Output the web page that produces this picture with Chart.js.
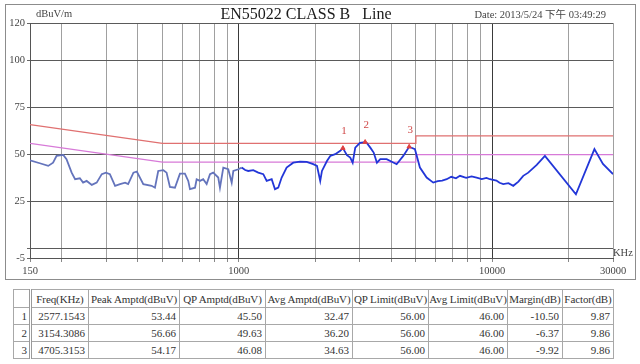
<!DOCTYPE html>
<html>
<head>
<meta charset="utf-8">
<script src="https://cdn.jsdelivr.net/npm/chart.js@4.4.1/dist/chart.umd.min.js"></script>
<style>
  html, body { margin: 0; padding: 0; background: #fff; }
  body { width: 640px; height: 364px; position: relative; overflow: hidden; font-family: 'Liberation Serif', serif; }
  #box { position: absolute; left: 5px; top: 4px; width: 629px; height: 274px; border: 1px solid #8c8c8c; }
  #box canvas { display: block; }
  #peaks { position: absolute; left: 13px; top: 289px; width: 600px; border-collapse: collapse; table-layout: fixed; font-size: 11px; color: #333; }
  #peaks th, #peaks td { border: 1px solid #a8a8a8; padding: 0 3px; white-space: nowrap; overflow: hidden; font-weight: normal; }
  #peaks th { height: 17px; text-align: center; padding: 0; letter-spacing: -0.1px; }
  #peaks td { height: 16px; text-align: right; }
  #peaks .idx { border-right: 3px double #9a9a9a; padding: 0 2px; }
</style>
</head>
<body>
<div id="box"><canvas id="myChart" width="629" height="274"></canvas></div>
<table id="peaks">
  <colgroup>
    <col style="width:17px"><col style="width:58px"><col style="width:91px"><col style="width:86px">
    <col style="width:87px"><col style="width:76px"><col style="width:79px"><col style="width:55px"><col style="width:51px">
  </colgroup>
  <thead><tr id="headRow"></tr></thead>
  <tbody id="bodyRows"></tbody>
</table>
<script>
'use strict';

// Chart texts
let titleText = 'EN55022 CLASS B   Line';
let dateText = 'Date: 2013/5/24 下午 03:49:29';
let unitText = 'dBuV/m';
let freqUnitText = 'KHz';

// Axis ticks
let xGridTicks = [150, 200, 300, 400, 500, 600, 700, 800, 900, 1000, 2000, 3000, 4000, 5000, 6000, 7000, 8000, 9000, 10000, 20000, 30000];
let xLabelTicks = [150, 1000, 10000, 30000];
let yTicks = [-5, 0, 25, 50, 75, 100, 120];
let yLabelTicks = [-5, 25, 50, 75, 100, 120];

// Limit lines (KHz / dBuV)
let qpLimitFreq = [150, 500, 5000, 5000, 30000];
let qpLimitLevel = [66, 56, 56, 60, 60];
let avgLimitFreq = [150, 500, 5000, 5000, 30000];
let avgLimitLevel = [56, 46, 46, 50, 50];

let traceFreq = [150, 164, 177, 185, 191, 203, 209, 219, 226, 236, 243, 251, 263, 275, 288, 299, 310, 325, 340, 356,
  366, 384, 396, 420, 453, 467, 481, 504, 519, 535, 560, 586, 613, 632, 642, 672, 682, 703, 724, 747,
  770, 793, 830, 843, 869, 909, 938, 952, 996, 1027, 1060, 1090, 1141, 1194, 1250, 1289, 1349, 1390, 1432, 1477,
  1545, 1641, 1745, 1854, 1968, 2036, 2097, 2130, 2229, 2297, 2403, 2516, 2577, 2673, 2755, 2816, 2883, 3009, 3154, 3207,
  3305, 3408, 3511, 3619, 3834, 4200, 4460, 4705, 4959, 5189, 5516, 5856, 6100, 6350, 6617, 6900, 7200, 7466, 7900, 8300,
  8685, 9100, 9500, 9806, 10400, 10700, 11066, 11600, 12121, 12700, 13268, 13886, 15000, 16160, 21420, 25340, 27380, 30000];
let traceLevel = [47.0, 45.4, 44.0, 45.7, 49.3, 49.8, 47.5, 40.4, 36.9, 37.4, 35.1, 36.0, 33.9, 35.1, 39.6, 40.4, 39.6, 33.4, 34.3, 35.1,
  34.3, 40.4, 41.0, 34.3, 33.4, 32.4, 41.3, 41.7, 40.4, 32.8, 32.4, 39.9, 39.9, 36.0, 31.6, 32.4, 36.9, 36.0, 36.9, 34.3,
  39.6, 40.4, 37.8, 32.4, 43.1, 42.2, 35.1, 41.3, 42.2, 43.1, 41.8, 41.3, 41.7, 40.4, 39.6, 36.0, 36.9, 31.6, 32.4, 37.8,
  43.1, 45.7, 46.3, 46.1, 44.9, 44.0, 36.0, 41.3, 46.6, 49.3, 50.2, 52.0, 53.44, 49.7, 48.4, 45.7, 53.7, 56.2, 56.66, 56.1,
  53.7, 51.1, 45.7, 47.6, 47.6, 44.9, 49.3, 54.17, 52.9, 43.1, 37.8, 35.1, 35.9, 36.2, 36.9, 38.2, 37.4, 38.7, 37.6, 38.4,
  37.8, 37.0, 37.6, 36.9, 36.2, 35.0, 34.3, 34.8, 33.4, 35.6, 38.7, 40.4, 44.5, 49.3, 28.9, 52.9, 45.0, 39.6];

// Peak table
let tableHeaders = ['', 'Freq(KHz)', 'Peak Amptd(dBuV)', 'QP Amptd(dBuV)', 'Avg Amptd(dBuV)', 'QP Limit(dBuV)', 'Avg Limit(dBuV)', 'Margin(dB)', 'Factor(dB)'];
let peakNo = ['1', '2', '3'];
let peakFreq = [2577.1543, 3154.3086, 4705.3153];
let peakAmptd = [53.44, 56.66, 54.17];
let qpAmptd = [45.50, 49.63, 46.08];
let avgAmptd = [32.47, 36.20, 34.63];
let qpLimit = [56.00, 56.00, 56.00];
let avgLimit = [46.00, 46.00, 46.00];
let margin = [-10.50, -6.37, -9.92];
let factor = [9.87, 9.86, 9.86];

function toPoints(xs, ys) {
  return xs.map((x, i) => ({ x: x, y: ys[i] }));
}

// Table render
let headRow = document.getElementById('headRow');
tableHeaders.forEach((h, i) => {
  let th = document.createElement('th');
  th.textContent = h;
  if (i === 0) th.className = 'idx';
  headRow.appendChild(th);
});
let bodyRows = document.getElementById('bodyRows');
for (let i = 0; i < peakNo.length; i++) {
  let tr = document.createElement('tr');
  let cells = [peakNo[i], peakFreq[i].toFixed(4), peakAmptd[i].toFixed(2), qpAmptd[i].toFixed(2), avgAmptd[i].toFixed(2),
    qpLimit[i].toFixed(2), avgLimit[i].toFixed(2), margin[i].toFixed(2), factor[i].toFixed(2)];
  cells.forEach((c, j) => {
    let td = document.createElement('td');
    td.textContent = c;
    if (j === 0) td.className = 'idx';
    tr.appendChild(td);
  });
  bodyRows.appendChild(tr);
}

// Texts drawn on the canvas
const annotate = {
  id: 'annotate',
  afterDraw(chart) {
    let ctx = chart.ctx;
    ctx.save();
    ctx.textBaseline = 'middle';
    ctx.fillStyle = '#1a1a1a';
    ctx.font = '16px "Liberation Serif"';
    ctx.textAlign = 'center';
    ctx.fillText(titleText, 300, 10);
    ctx.fillStyle = '#444';
    ctx.font = '10.5px "Liberation Serif", "Noto Sans CJK SC"';
    ctx.textAlign = 'right';
    ctx.fillText(dateText, 600, 10);
    ctx.textAlign = 'left';
    ctx.fillText(unitText, 30, 9);
    ctx.fillText(freqUnitText, 607, 248);

    let meta = chart.getDatasetMeta(0);
    ctx.fillStyle = '#d04848';
    ctx.font = '11px "Liberation Serif"';
    ctx.textAlign = 'center';
    meta.data.forEach((pt, i) => {
      ctx.fillText(peakNo[i], pt.x + 1, pt.y - 17);
    });
    ctx.restore();
  }
};

let ctx = document.getElementById('myChart').getContext('2d');
let myChart = new Chart(ctx, {
  type: 'line',
  data: {
    datasets: [{
      label: 'Peaks',
      data: toPoints(peakFreq, peakAmptd),
      showLine: false,
      pointStyle: 'triangle',
      pointRadius: 2.5,
      backgroundColor: '#e04040',
      borderColor: '#e04040',
      order: 0
    },
    {
      label: 'Trace',
      data: toPoints(traceFreq, traceLevel),
      borderColor: '#2b3fd0',
      borderWidth: 1.8,
      pointRadius: 0,
      tension: 0,
      segment: {
        borderColor: c => c.p0.parsed.x < 1000 ? '#6474bc' : '#2236d8'
      },
      order: 1
    },
    {
      label: 'QP Limit',
      data: toPoints(qpLimitFreq, qpLimitLevel),
      borderColor: '#e07070',
      borderWidth: 1.3,
      pointRadius: 0,
      tension: 0,
      order: 2
    },
    {
      label: 'Avg Limit',
      data: toPoints(avgLimitFreq, avgLimitLevel),
      borderColor: '#d77ad8',
      borderWidth: 1.3,
      pointRadius: 0,
      tension: 0,
      order: 3
    }]
  },
  options: {
    responsive: false,
    animation: false,
    layout: { padding: { top: 18, right: 22, left: 0, bottom: 0 } },
    plugins: { legend: { display: false }, tooltip: { enabled: false } },
    scales: {
      x: {
        type: 'logarithmic',
        min: 150,
        max: 30000,
        afterBuildTicks: scale => { scale.ticks = xGridTicks.map(v => ({ value: v })); },
        afterFit: scale => { scale.height = 21; },
        border: { display: true, color: '#555' },
        grid: {
          color: c => (c.tick && (c.tick.value === 1000 || c.tick.value === 10000)) ? '#3a3a3a' : '#a0a0a0',
          tickColor: '#888',
          tickLength: 4,
          lineWidth: 1
        },
        ticks: {
          autoSkip: false,
          maxRotation: 0,
          padding: 3,
          color: '#444',
          font: { family: 'Liberation Serif', size: 10.5 },
          callback: v => xLabelTicks.includes(v) ? String(v) : ''
        }
      },
      y: {
        min: -5,
        max: 120,
        afterBuildTicks: scale => { scale.ticks = yTicks.map(v => ({ value: v })); },
        afterFit: scale => { scale.width = 24; },
        border: { display: true, color: '#555' },
        grid: {
          color: '#5a5a5a',
          tickColor: '#666',
          tickLength: 3,
          lineWidth: 1
        },
        ticks: {
          padding: 2,
          color: '#444',
          font: { family: 'Liberation Serif', size: 10.5 },
          callback: v => yLabelTicks.includes(v) ? String(v) : ''
        }
      }
    }
  },
  plugins: [annotate]
});
</script>
</body>
</html>
